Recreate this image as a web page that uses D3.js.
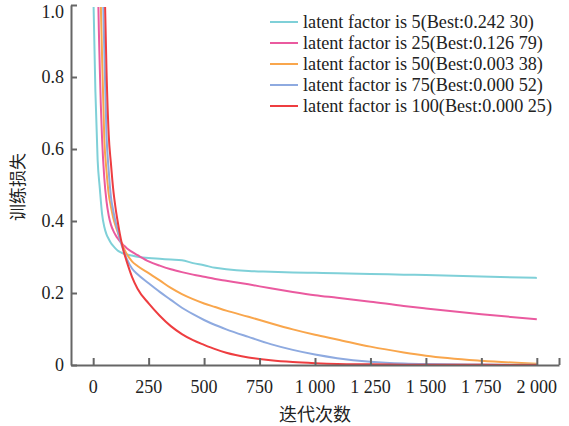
<!DOCTYPE html>
<html>
<head>
<meta charset="utf-8">
<script src="https://cdn.jsdelivr.net/npm/d3@7"></script>
<style>
  body { margin: 0; background: #fff; }
  svg text { font-family: "Liberation Serif", "DejaVu Serif", serif; fill: #222; }
  .cjk { font-family: "Noto Sans CJK SC", sans-serif; }
</style>
</head>
<body>
<svg id="chart" width="569" height="426"></svg>
<script>
// iteration steps
const iters = [0, 10, 20, 30, 40, 50, 60, 70, 80, 90, 100, 110, 120, 130, 140, 150, 175, 200, 250, 300, 350, 400, 450, 500, 550, 600, 700, 800, 900, 1000, 1100, 1250, 1400, 1500, 1750, 2000];

const lf5 = [1.05, 0.76, 0.57, 0.49, 0.42, 0.384, 0.363, 0.35, 0.339, 0.331, 0.324, 0.318, 0.314, 0.311, 0.309, 0.307, 0.304, 0.301, 0.297, 0.295, 0.293, 0.291, 0.283, 0.277, 0.27, 0.266, 0.261, 0.259, 0.257, 0.256, 0.255, 0.253, 0.251, 0.25, 0.246, 0.242];
const lf25 = [3.0, 2.0, 1.15, 0.82, 0.63, 0.52, 0.455, 0.415, 0.39, 0.374, 0.362, 0.352, 0.344, 0.337, 0.331, 0.325, 0.314, 0.305, 0.288, 0.276, 0.266, 0.258, 0.251, 0.245, 0.239, 0.234, 0.224, 0.213, 0.203, 0.194, 0.187, 0.176, 0.164, 0.157, 0.141, 0.127];
const lf50 = [4.0, 2.6, 1.7, 1.15, 0.86, 0.63, 0.54, 0.475, 0.44, 0.41, 0.388, 0.37, 0.352, 0.336, 0.322, 0.31, 0.288, 0.275, 0.255, 0.235, 0.214, 0.197, 0.183, 0.171, 0.161, 0.151, 0.134, 0.116, 0.099, 0.084, 0.071, 0.051, 0.035, 0.026, 0.012, 0.0034];
const lf75 = [5.0, 3.5, 2.4, 1.6, 1.15, 0.88, 0.64, 0.54, 0.467, 0.43, 0.4, 0.375, 0.35, 0.33, 0.312, 0.297, 0.268, 0.252, 0.227, 0.203, 0.181, 0.159, 0.141, 0.125, 0.111, 0.099, 0.078, 0.058, 0.042, 0.029, 0.019, 0.009, 0.004, 0.0025, 0.0012, 0.0005];
const lf100 = [6.0, 4.5, 3.2, 2.2, 1.5, 1.1, 0.82, 0.64, 0.56, 0.49, 0.44, 0.4, 0.365, 0.335, 0.31, 0.29, 0.245, 0.212, 0.171, 0.137, 0.108, 0.086, 0.069, 0.056, 0.044, 0.034, 0.021, 0.013, 0.008, 0.005, 0.003, 0.002, 0.001, 0.0008, 0.0004, 0.00025];

const seriesNames = ["latent factor is 5(Best:0.242 30)", "latent factor is 25(Best:0.126 79)", "latent factor is 50(Best:0.003 38)", "latent factor is 75(Best:0.000 52)", "latent factor is 100(Best:0.000 25)"];
const seriesColors = ["#7fd0d8", "#ea5a9f", "#f9a64c", "#8eaae0", "#ee3d40"];
const xTicks = [0, 250, 500, 750, 1000, 1250, 1500, 1750, 2000, 2100];
const yTicks = [0, 0.2, 0.4, 0.6, 0.8, 1.0];

const allSeries = [lf5, lf25, lf50, lf75, lf100];

const svg = d3.select("#chart");
const x = d3.scaleLinear().domain([-100, 2100]).range([71, 559]);
const y = d3.scaleLinear().domain([0, 1]).range([365, 5]);

const loc = d3.formatLocale({decimal: ".", thousands: " ", grouping: [3], currency: ["", ""]});
const fmtX = loc.format(",d");

svg.append("clipPath").attr("id", "clip")
  .append("rect").attr("x", 71).attr("y", 7).attr("width", 488).attr("height", 358);

const line = d3.line()
  .x(d => x(d[0]))
  .y(d => y(d[1]))
  .curve(d3.curveMonotoneX);

const g = svg.append("g").attr("clip-path", "url(#clip)");
allSeries.forEach((vals, i) => {
  g.append("path")
    .datum(iters.map((t, j) => [t, vals[j]]))
    .attr("fill", "none")
    .attr("stroke", seriesColors[i])
    .attr("stroke-width", 2)
    .attr("d", line);
});

// x axis, ticks pointing inward
const xAxis = svg.append("g").attr("transform", "translate(0,365)")
  .call(d3.axisTop(x).tickValues(xTicks).tickSize(7).tickSizeOuter(0));
xAxis.selectAll("text").remove();
svg.append("g").selectAll("text").data(xTicks.filter(d => d <= 2000)).join("text")
  .attr("x", d => x(d)).attr("y", 393)
  .attr("text-anchor", "middle").attr("font-size", 18)
  .text(d => fmtX(d));

// y axis
const yAxis = svg.append("g").attr("transform", "translate(71,0)")
  .call(d3.axisRight(y).tickValues(yTicks).tickSize(6).tickSizeOuter(0));
yAxis.selectAll("text").remove();
svg.append("g").selectAll("text").data(yTicks).join("text")
  .attr("x", 64).attr("y", d => Math.max(y(d) + 6, 18))
  .attr("text-anchor", "end").attr("font-size", 18)
  .text(d => d === 0 ? "0" : d.toFixed(1));

svg.selectAll(".domain, .tick line").attr("stroke", "#666").attr("stroke-width", 2);

// axis titles
svg.append("text").attr("class", "cjk")
  .attr("x", 315).attr("y", 421).attr("text-anchor", "middle").attr("font-size", 18)
  .text("迭代次数");
svg.append("text").attr("class", "cjk")
  .attr("transform", "translate(24,187) rotate(-90)")
  .attr("text-anchor", "middle").attr("font-size", 17)
  .text("训练损失");

// legend
const lg = svg.append("g");
seriesNames.forEach((name, i) => {
  const yy = 22 + i * 21;
  lg.append("line").attr("x1", 270).attr("x2", 298).attr("y1", yy).attr("y2", yy)
    .attr("stroke", seriesColors[i]).attr("stroke-width", 2);
  lg.append("text").attr("x", 303).attr("y", yy + 6).attr("font-size", 18.2).text(name);
});
</script>
</body>
</html>
